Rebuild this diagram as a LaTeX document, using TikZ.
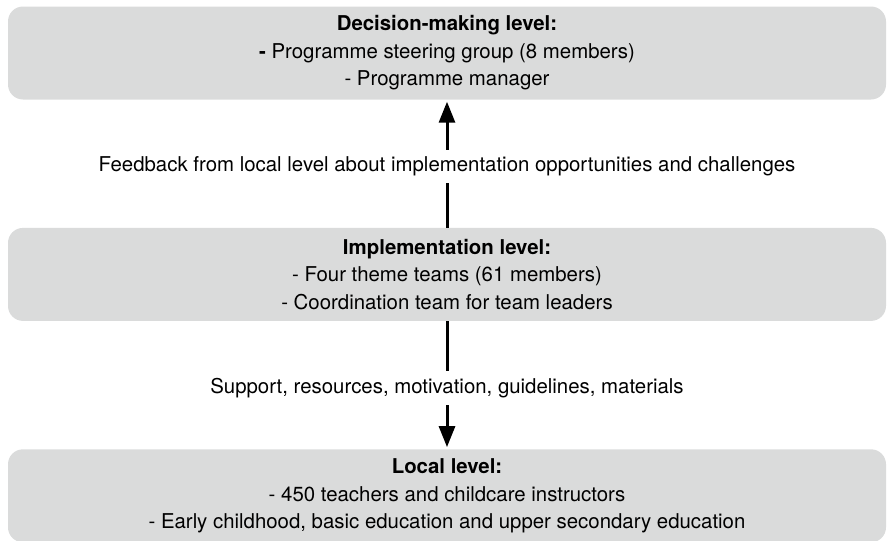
\documentclass[tikz,border=0pt]{standalone}
\usepackage{fontspec}
\setmainfont{TeX Gyre Heros}
\usetikzlibrary{positioning,arrows.meta}
\definecolor{boxgray}{RGB}{218,219,219}

\begin{document}
\begin{tikzpicture}[x=1pt,y=1pt,font=\fontsize{20.4}{27.5}\selectfont,node distance=128pt,
  levelbox/.style={fill=boxgray,rounded corners=15pt,minimum width=878pt,minimum height=93pt,align=center,inner sep=0pt},
  flowarrow/.style={line width=3pt,-{Triangle[width=16pt,length=21pt]},shorten >=2pt},
  flowlabel/.style={fill=white,inner xsep=4pt,inner ysep=7pt,yshift=-3pt}]
\useasboundingbox (0,0) rectangle (887,-541);
\node[levelbox] (dec) at (447,-53) {\textbf{Decision-making level:}\\\textbf{-} Programme steering group (8 members)\\- Programme manager};
\node[levelbox] (impl) [below=of dec] {\textbf{Implementation level:}\\- Four theme teams (61 members)\\- Coordination team for team leaders};
\node[levelbox] (loc) [below=of impl] {\textbf{Local level:}\\- 450 teachers and childcare instructors\\- Early childhood, basic education and upper secondary education};
\draw[flowarrow] (impl) -- node[flowlabel] (fb) {Feedback from local level about implementation opportunities and challenges} (dec);
\draw[flowarrow] (impl) -- node[flowlabel] (sup) {Support, resources, motivation, guidelines, materials} (loc);
\end{tikzpicture}
\end{document}
